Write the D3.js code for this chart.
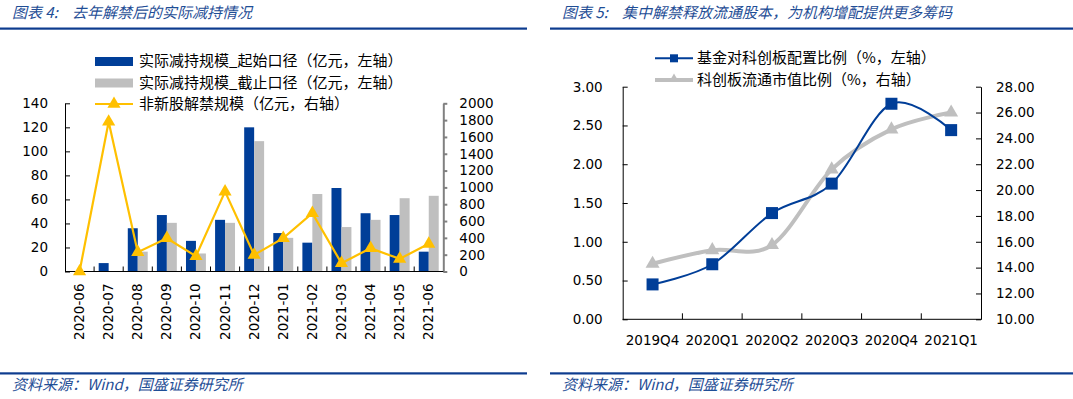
<!DOCTYPE html>
<html>
<head>
<meta charset="utf-8">
<script src="https://cdn.jsdelivr.net/npm/d3@7"></script>
<style>
  body { margin: 0; background: #fff; }
  svg { display: block; }
  .num { font-family: "DejaVu Sans", Verdana, sans-serif; font-size: 13px; fill: #000; }
  .cjk { font-family: "Noto Sans CJK SC", sans-serif; font-size: 15px; fill: #000; }
  .hdr { font-family: "Noto Sans CJK SC", sans-serif; font-size: 15px; font-style: italic; fill: #1F4E96; }
</style>
</head>
<body>
<svg id="chart" width="1073" height="399"></svg>
<script>
// ---- left chart data (图表 4)
var months = ["2020-06","2020-07","2020-08","2020-09","2020-10","2020-11","2020-12",
              "2021-01","2021-02","2021-03","2021-04","2021-05","2021-06"];
var reduceStart = [0, 7, 36, 47, 25.5, 43, 120, 32, 24, 69.5, 48.5, 47, 16.5];
var reduceEnd   = [0, 0, 16.5, 40.5, 15, 40.5, 108.5, 28, 64.5, 37, 43, 61, 63];
var unlockScale = [0, 1780, 230, 396, 182, 950, 198, 396, 693, 99, 277, 150, 329];
var leftTicksL = [0, 20, 40, 60, 80, 100, 120, 140];
var rightTicksL = [0, 200, 400, 600, 800, 1000, 1200, 1400, 1600, 1800, 2000];
var legendL = ["实际减持规模_起始口径（亿元，左轴）", "实际减持规模_截止口径（亿元，左轴）", "非新股解禁规模（亿元，右轴）"];

// ---- right chart data (图表 5)
var quarters = ["2019Q4","2020Q1","2020Q2","2020Q3","2020Q4","2021Q1"];
var fundRatio = [0.45, 0.71, 1.37, 1.75, 2.78, 2.44];
var starRatio = [14.3, 15.35, 15.75, 21.6, 24.7, 26.0];
var leftTicksR = [0, 0.5, 1, 1.5, 2, 2.5, 3];
var rightTicksR = [10, 12, 14, 16, 18, 20, 22, 24, 26, 28];
var legendR = ["基金对科创板配置比例（%，左轴）", "科创板流通市值比例（%，右轴）"];

var BLUE = "#003E98", GRAY = "#BFBFBF", GOLD = "#FFC000", HDR = "#0D3C8F";

var svg = d3.select("#chart");

// header / footer
function frame(x0, x1, label, title) {
  svg.append("text").attr("class", "hdr").attr("x", x0 + 12).attr("y", 18).text(label);
  svg.append("text").attr("class", "hdr").attr("x", x0 + 72).attr("y", 18).text(title);
  svg.append("rect").attr("x", x0).attr("y", 27.5).attr("width", x1 - x0).attr("height", 2.2).attr("fill", HDR);
  svg.append("rect").attr("x", x0).attr("y", 372.3).attr("width", x1 - x0).attr("height", 2.2).attr("fill", HDR);
  svg.append("text").attr("class", "hdr").attr("x", x0 + 12).attr("y", 390).text("资料来源：Wind，国盛证券研究所");
}
frame(0, 527, "图表 4:", "去年解禁后的实际减持情况");
frame(550, 1073, "图表 5:", "集中解禁释放流通股本，为机构增配提供更多筹码");

// ================= left chart =================
var x0 = d3.scaleBand().domain(months).range([65, 443.3]).padding(0);
var x1 = d3.scaleBand().domain(["s", "e"]).range([0, x0.bandwidth()]).paddingInner(0).paddingOuter(0.46);
var yL = d3.scaleLinear().domain([0, 140]).range([271.5, 103.3]);
var yR = d3.scaleLinear().domain([0, 2000]).range([271.5, 103.3]);

var gL = svg.append("g");

gL.selectAll(".barS").data(months).enter().append("rect")
  .attr("x", function(d) { return x0(d) + x1("s"); })
  .attr("y", function(d, i) { return yL(reduceStart[i]); })
  .attr("width", x1.bandwidth())
  .attr("height", function(d, i) { return yL(0) - yL(reduceStart[i]); })
  .attr("fill", BLUE);

gL.selectAll(".barE").data(months).enter().append("rect")
  .attr("x", function(d) { return x0(d) + x1("e"); })
  .attr("y", function(d, i) { return yL(reduceEnd[i]); })
  .attr("width", x1.bandwidth())
  .attr("height", function(d, i) { return yL(0) - yL(reduceEnd[i]); })
  .attr("fill", GRAY);

// axes
var axL = gL.append("g").attr("class", "num").attr("transform", "translate(65,0)")
  .call(d3.axisLeft(yL).tickValues(leftTicksL).tickFormat(d3.format("d")).tickSizeInner(-5).tickSizeOuter(0).tickPadding(17));
var axR = gL.append("g").attr("class", "num").attr("transform", "translate(443.3,0)")
  .call(d3.axisRight(yR).tickValues(rightTicksL).tickFormat(d3.format("d")).tickSizeInner(4).tickSizeOuter(0).tickPadding(12));
axR.selectAll("path,line").attr("stroke", "#808080").attr("stroke-width", 2);
[axL, axR].forEach(function(a) {
  a.selectAll("text").attr("font-family", "DejaVu Sans").attr("font-size", 13.5).attr("fill", "#000");
});

var axB = gL.append("g").attr("transform", "translate(0,271.5)");
axB.append("line").attr("x1", 65).attr("x2", 443.3).attr("stroke", "#000");
axB.selectAll(".tk").data(months.slice(1)).enter().append("line")
  .attr("x1", function(d) { return x0(d); }).attr("x2", function(d) { return x0(d); })
  .attr("y1", 0).attr("y2", -5).attr("stroke", "#000");
axB.selectAll(".lb").data(months).enter().append("text")
  .attr("class", "num").attr("text-anchor", "end").style("font-size", "13.5px")
  .attr("transform", function(d) { return "translate(" + (x0(d) + x0.bandwidth() / 2 + 4.5) + ",12) rotate(-90)"; })
  .text(function(d) { return d; });

// line
var cx = function(d) { return x0(d) + x0.bandwidth() / 2; };
var lineL = d3.line().x(function(d, i) { return cx(months[i]); }).y(function(d) { return yR(d); });
gL.append("path").datum(unlockScale).attr("d", lineL)
  .attr("fill", "none").attr("stroke", GOLD).attr("stroke-width", 2.2);
var tri = d3.symbol().type(d3.symbolTriangle).size(75);
gL.selectAll(".mk").data(unlockScale).enter().append("path")
  .attr("d", tri)
  .attr("transform", function(d, i) { return "translate(" + cx(months[i]) + "," + yR(d) + ")"; })
  .attr("fill", GOLD);

// legend
var legL = gL.append("g");
legL.append("rect").attr("x", 95).attr("y", 57).attr("width", 38).attr("height", 9).attr("fill", BLUE);
legL.append("rect").attr("x", 95).attr("y", 78.5).attr("width", 38).attr("height", 9).attr("fill", GRAY);
legL.append("line").attr("x1", 95).attr("x2", 133).attr("y1", 104).attr("y2", 104).attr("stroke", GOLD).attr("stroke-width", 2.2);
legL.append("path").attr("d", tri).attr("transform", "translate(114,104)").attr("fill", GOLD);
legL.selectAll("text").data(legendL).enter().append("text")
  .attr("class", "cjk").attr("x", 139)
  .attr("y", function(d, i) { return 61 + i * 21.6 + 5; })
  .text(function(d) { return d; });

// ================= right chart =================
var q = d3.scaleBand().domain(quarters).range([622.7, 981]).padding(0);
var yL2 = d3.scaleLinear().domain([0, 3]).range([319.3, 86.7]);
var yR2 = d3.scaleLinear().domain([10, 28]).range([319.3, 86.7]);
var qc = function(i) { return q(quarters[i]) + q.bandwidth() / 2; };

var gR = svg.append("g");
var ax2L = gR.append("g").attr("class", "num").attr("transform", "translate(622.7,0)")
  .call(d3.axisLeft(yL2).tickValues(leftTicksR).tickFormat(d3.format(".2f")).tickSizeInner(-5).tickSizeOuter(0).tickPadding(20));
var ax2R = gR.append("g").attr("class", "num").attr("transform", "translate(981,0)")
  .call(d3.axisRight(yR2).tickValues(rightTicksR).tickFormat(d3.format(".2f")).tickSizeInner(-5).tickSizeOuter(0).tickPadding(15));
[ax2L, ax2R].forEach(function(a) {
  a.selectAll("text").attr("font-family", "DejaVu Sans").attr("font-size", 13.5).attr("fill", "#000");
});

var ax2B = gR.append("g").attr("transform", "translate(0,319.3)");
ax2B.append("line").attr("x1", 622.7).attr("x2", 981).attr("stroke", "#000");
ax2B.selectAll(".tk").data(quarters.slice(1)).enter().append("line")
  .attr("x1", function(d) { return q(d); }).attr("x2", function(d) { return q(d); })
  .attr("y1", 0).attr("y2", -6).attr("stroke", "#000");
ax2B.selectAll(".lb").data(quarters).enter().append("text")
  .attr("class", "num").attr("text-anchor", "middle").style("font-size", "13.5px")
  .attr("x", function(d, i) { return qc(i); }).attr("y", 26)
  .text(function(d) { return d; });

var smooth = d3.curveCatmullRom.alpha(0);
gR.append("path").datum(starRatio)
  .attr("d", d3.line().x(function(d, i) { return qc(i); }).y(function(d) { return yR2(d); }).curve(smooth))
  .attr("fill", "none").attr("stroke", GRAY).attr("stroke-width", 4);
var tri2 = d3.symbol().type(d3.symbolTriangle).size(85);
gR.selectAll(".mk2").data(starRatio).enter().append("path")
  .attr("d", tri2)
  .attr("transform", function(d, i) { return "translate(" + qc(i) + "," + yR2(d) + ")"; })
  .attr("fill", GRAY);

gR.append("path").datum(fundRatio)
  .attr("d", d3.line().x(function(d, i) { return qc(i); }).y(function(d) { return yL2(d); }).curve(smooth))
  .attr("fill", "none").attr("stroke", BLUE).attr("stroke-width", 2);
gR.selectAll(".mk1").data(fundRatio).enter().append("rect")
  .attr("x", function(d, i) { return qc(i) - 6; })
  .attr("y", function(d) { return yL2(d) - 6; })
  .attr("width", 12).attr("height", 12).attr("fill", BLUE);

// legend
var legR = gR.append("g");
legR.append("line").attr("x1", 655).attr("x2", 693).attr("y1", 58.3).attr("y2", 58.3).attr("stroke", BLUE).attr("stroke-width", 2);
legR.append("rect").attr("x", 670).attr("y", 54.3).attr("width", 8).attr("height", 8).attr("fill", BLUE);
legR.append("line").attr("x1", 655).attr("x2", 693).attr("y1", 80).attr("y2", 80).attr("stroke", GRAY).attr("stroke-width", 4);
legR.append("path").attr("d", d3.symbol().type(d3.symbolTriangle).size(40)).attr("transform", "translate(674,79)").attr("fill", GRAY);
legR.selectAll("text").data(legendR).enter().append("text")
  .attr("class", "cjk").attr("x", 697)
  .attr("y", function(d, i) { return 58.3 + i * 21.7 + 5; })
  .text(function(d) { return d; });
</script>
</body>
</html>
